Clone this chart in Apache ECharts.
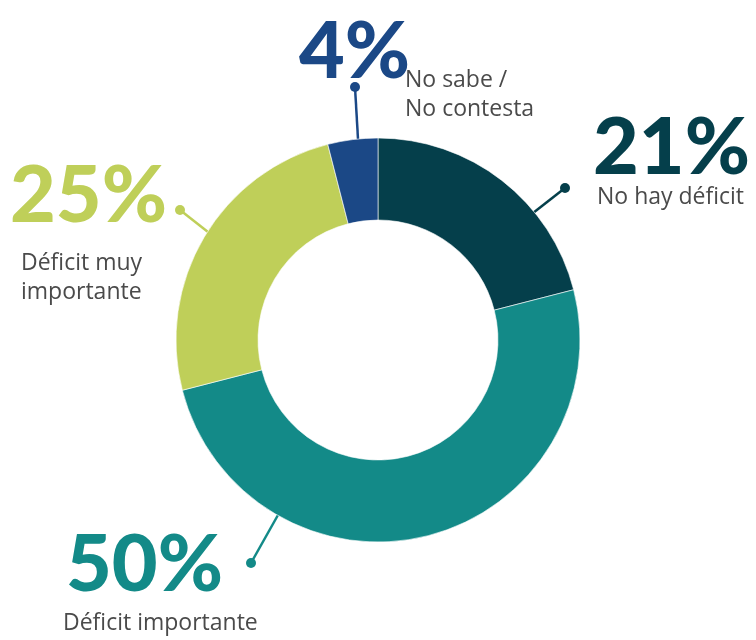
<!DOCTYPE html>
<html>
<head>
<meta charset="utf-8">
<script src="https://cdn.jsdelivr.net/npm/echarts@6/dist/echarts.min.js"></script>
<style>
  html, body { margin: 0; padding: 0; background: #fff; }
  #chart { width: 756px; height: 640px; }
</style>
</head>
<body>
<div id="chart"></div>
<script>
// datos del gráfico
const categories = ['No hay déficit', 'Déficit importante', 'Déficit muy importante', 'No sabe / No contesta'];
const labelNames = ['No hay déficit', 'Déficit importante', 'Déficit muy\nimportante', 'No sabe /\nNo contesta'];
const values = [21, 50, 25, 4];
const colors = ['#053f4b', '#138a88', '#bfcf59', '#1b4886'];

// posiciones de las etiquetas (solo diseño)
const bigPos = [[593, 149], [66, 566], [10, 197], [299, 53]];
const namePos = [[597, 197], [63, 623], [21, 278], [405, 95]];
const linePts = [
  [[533, 213], [565, 188]],
  [[278, 515], [251, 563]],
  [[208, 232], [180, 210]],
  [[358, 139], [355, 87]]
];

const chart = echarts.init(document.getElementById('chart'));

const ringData = categories.map((c, i) => ({
  name: c,
  value: values[i],
  itemStyle: { color: colors[i] },
  label: { color: colors[i] },
  labelLine: { lineStyle: { color: colors[i] } }
}));

const nameData = categories.map((c, i) => ({ name: c, value: values[i] }));

const option = {
  backgroundColor: '#fff',
  animation: false,
  series: [
    {
      type: 'pie',
      center: [378, 340],
      radius: [120, 202],
      startAngle: 90,
      clockwise: true,
      avoidLabelOverlap: false,
      silent: true,
      itemStyle: { borderColor: '#fff', borderWidth: 0.6 },
      label: {
        show: true,
        position: 'outside',
        formatter: p => p.value + '%',
        fontFamily: 'Lato',
        fontWeight: 900,
        fontSize: 79
      },
      labelLine: { show: true, lineStyle: { width: 2.5 } },
      labelLayout: p => ({
        x: bigPos[p.dataIndex][0],
        y: bigPos[p.dataIndex][1],
        align: 'left',
        verticalAlign: 'middle',
        labelLinePoints: linePts[p.dataIndex]
      }),
      data: ringData
    },
    {
      type: 'pie',
      center: [378, 340],
      radius: [120, 202],
      startAngle: 90,
      silent: true,
      itemStyle: { color: 'rgba(0,0,0,0)' },
      label: {
        show: true,
        position: 'outside',
        formatter: p => labelNames[p.dataIndex],
        fontFamily: 'Open Sans',
        fontSize: 23,
        lineHeight: 29,
        color: '#4a4a4a'
      },
      labelLine: { show: false },
      labelLayout: p => ({
        x: namePos[p.dataIndex][0],
        y: namePos[p.dataIndex][1],
        align: 'left',
        verticalAlign: 'middle'
      }),
      data: nameData
    }
  ],
  graphic: linePts.map((pts, i) => ({
    type: 'circle',
    shape: { cx: pts[1][0], cy: pts[1][1], r: 5 },
    style: { fill: colors[i] },
    z: 10
  }))
};

chart.setOption(option);
</script>
</body>
</html>
